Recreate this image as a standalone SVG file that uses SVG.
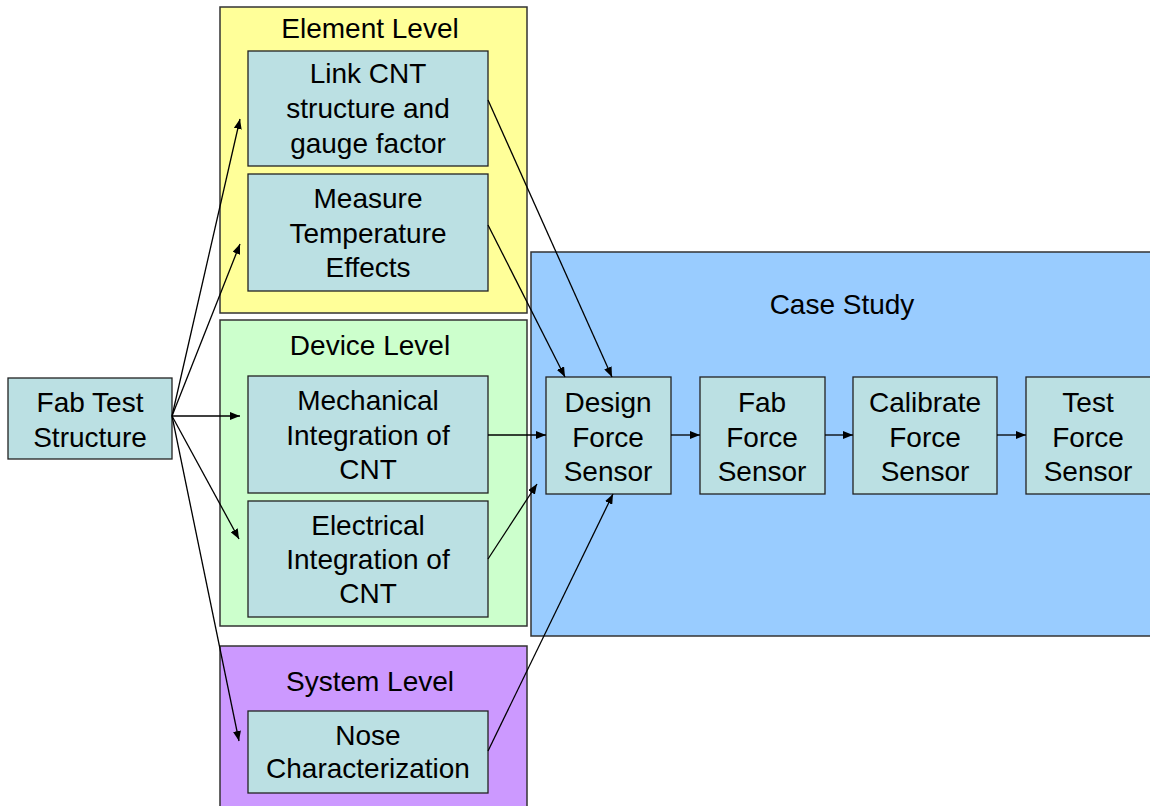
<svg xmlns="http://www.w3.org/2000/svg" width="1150" height="806" viewBox="0 0 1150 806">
<style>
.panel{stroke:#333;stroke-width:1.5}
.node rect{fill:#BBE0E3;stroke:#222;stroke-width:1.3}
text{font-family:"Liberation Sans",Arial,sans-serif;font-size:28px;fill:#000;text-anchor:middle}
.conn line{stroke:#000;stroke-width:1.3;marker-end:url(#ah)}
</style>
<defs>
<marker id="ah" viewBox="0 0 10 8" refX="10" refY="4" markerWidth="10" markerHeight="8" markerUnits="userSpaceOnUse" orient="auto">
<path d="M0,0 L10,4 L0,8 z" fill="#000"/>
</marker>
</defs>
<rect width="1150" height="806" fill="#fff"/>
<g id="panel-element"><rect class="panel" x="220" y="7" width="307" height="306" fill="#FFFF99"/><text x="370" y="38">Element Level</text></g>
<g id="panel-device"><rect class="panel" x="220" y="320" width="307" height="306" fill="#CCFFCC"/><text x="370" y="355">Device Level</text></g>
<g id="panel-system"><rect class="panel" x="220" y="646" width="307" height="170" fill="#CC99FF"/><text x="370" y="691">System Level</text></g>
<g id="panel-case"><rect class="panel" x="531" y="252" width="630" height="384" fill="#99CCFF"/><text x="842" y="314">Case Study</text></g>

<g id="n-fabtest" class="node"><rect x="8" y="378" width="164" height="81"/><text x="90" y="412">Fab Test</text><text x="90" y="447">Structure</text></g>
<g id="n-link" class="node"><rect x="248" y="51" width="240" height="115"/><text x="368" y="83">Link CNT</text><text x="368" y="118">structure and</text><text x="368" y="153">gauge factor</text></g>
<g id="n-measure" class="node"><rect x="248" y="174" width="240" height="117"/><text x="368" y="208">Measure</text><text x="368" y="243">Temperature</text><text x="368" y="277">Effects</text></g>
<g id="n-mech" class="node"><rect x="248" y="376" width="240" height="117"/><text x="368" y="410">Mechanical</text><text x="368" y="445">Integration of</text><text x="368" y="479">CNT</text></g>
<g id="n-elec" class="node"><rect x="248" y="501" width="240" height="116"/><text x="368" y="535">Electrical</text><text x="368" y="569">Integration of</text><text x="368" y="603">CNT</text></g>
<g id="n-nose" class="node"><rect x="248" y="711" width="240" height="82"/><text x="368" y="745">Nose</text><text x="368" y="778">Characterization</text></g>
<g id="n-design" class="node"><rect x="546" y="377" width="125" height="117"/><text x="608" y="412">Design</text><text x="608" y="447">Force</text><text x="608" y="481">Sensor</text></g>
<g id="n-fab" class="node"><rect x="700" y="377" width="125" height="117"/><text x="762" y="412">Fab</text><text x="762" y="447">Force</text><text x="762" y="481">Sensor</text></g>
<g id="n-cal" class="node"><rect x="853" y="377" width="144" height="117"/><text x="925" y="412">Calibrate</text><text x="925" y="447">Force</text><text x="925" y="481">Sensor</text></g>
<g id="n-test" class="node"><rect x="1026" y="377" width="126" height="117"/><text x="1088" y="412">Test</text><text x="1088" y="447">Force</text><text x="1088" y="481">Sensor</text></g>

<g id="connectors" class="conn">
<line x1="172" y1="416" x2="240" y2="119"/>
<line x1="172" y1="416" x2="240" y2="244"/>
<line x1="172" y1="416" x2="240" y2="416"/>
<line x1="172" y1="416" x2="239" y2="539"/>
<line x1="172" y1="416" x2="239" y2="741"/>
<line x1="488" y1="100" x2="612" y2="377"/>
<line x1="488" y1="225" x2="565" y2="377"/>
<line x1="488" y1="435" x2="546" y2="435"/>
<line x1="488" y1="559" x2="537" y2="484"/>
<line x1="488" y1="751" x2="613" y2="494"/>
<line x1="671" y1="435" x2="700" y2="435"/>
<line x1="825" y1="435" x2="853" y2="435"/>
<line x1="997" y1="435" x2="1026" y2="435"/>
</g>
</svg>
